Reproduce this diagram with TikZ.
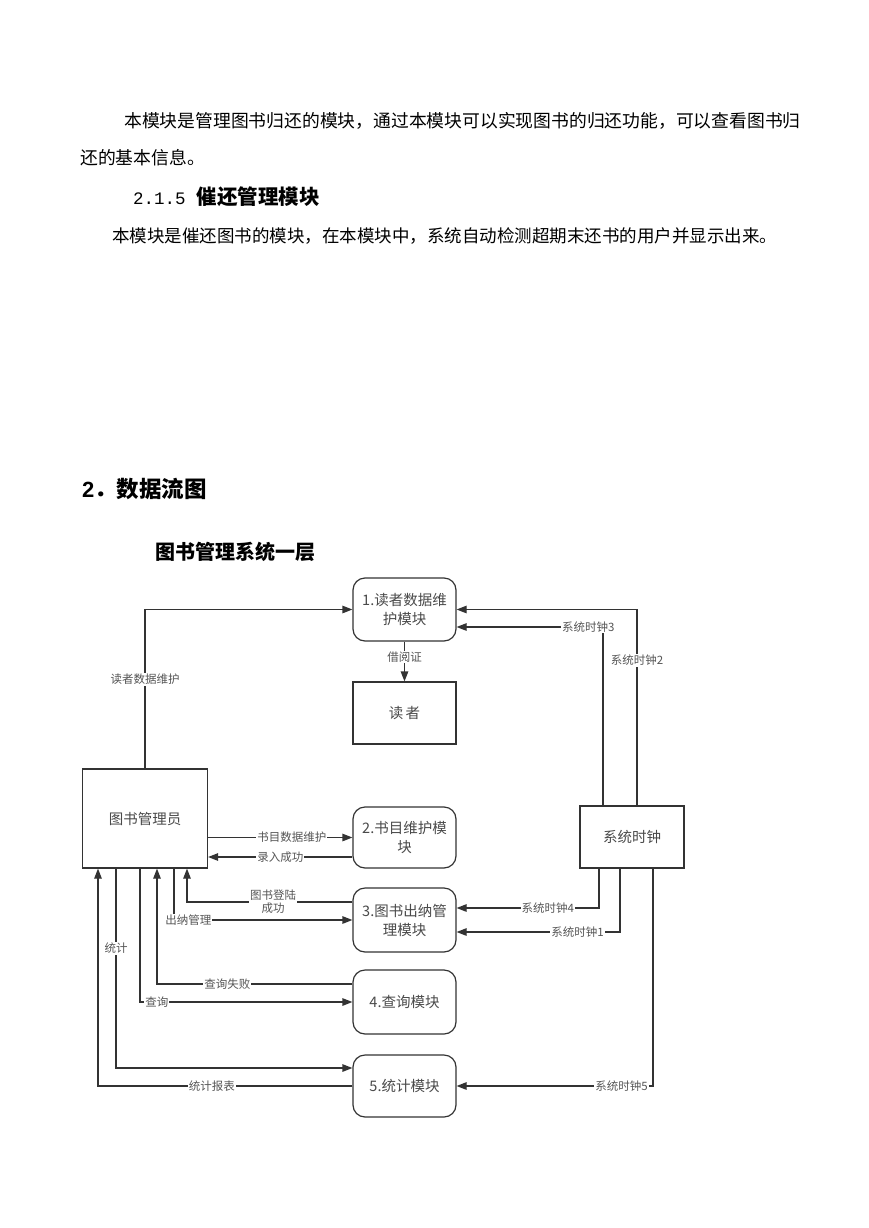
\documentclass[tikz,border=0pt]{standalone}
\usepackage{fontspec}
\newfontfamily\cjk{Noto Sans CJK SC}
\newfontfamily\lsans{Liberation Sans}
\newfontfamily\lmono{Liberation Mono}
\usetikzlibrary{arrows.meta,calc}
\definecolor{linec}{HTML}{333333}
\definecolor{boxtext}{HTML}{4A4A4A}
\definecolor{lbltext}{HTML}{555555}
\begin{document}
\begin{tikzpicture}[x=1pt,y=-1pt,
  ln/.style={line width=1.2pt,draw=linec},
  arr/.style={ln,-{Triangle[length=10pt,width=7.5pt]}},
  rbox/.style={draw=linec,line width=1.2pt,rounded corners=12pt,minimum width=103pt,minimum height=62pt,align=center,inner sep=0pt,font=\cjk\fontsize{14.5}{19}\selectfont,text=boxtext},
  sbox/.style={rbox,rounded corners=0pt},
  lbl/.style={fill=white,inner sep=1pt,font=\cjk\fontsize{11.5}{13}\selectfont,text=lbltext,align=center},
  body/.style={anchor=west,inner sep=0pt,font=\cjk\fontsize{17.8}{20}\selectfont}
]
\fill[white] (0,0) rectangle (869,1228);
\useasboundingbox (0,0) rectangle (869,1228);

% text
\node[body] (t1) at (124,121) {本模块是管理图书归还的模块，通过本模块可以实现图书的归还功能，可以查看图书归};
\node[body] (t2) at (80,158) {还的基本信息。};
\node[anchor=west,inner sep=0pt] (h1) at (133,197) {{\lmono\fontsize{17.5}{20}\selectfont 2.1.5}\hspace{11pt}{\cjk\bfseries\fontsize{20.5}{22}\selectfont 催还管理模块}};
\node[body,font=\cjk\fontsize{17.5}{20}\selectfont] (t3) at (112,236) {本模块是催还图书的模块，在本模块中，系统自动检测超期末还书的用户并显示出来。};
\node[anchor=west,inner sep=0pt] (h2) at (82,489) {{\lsans\bfseries\fontsize{22}{24}\selectfont 2}{\cjk\bfseries\fontsize{22.5}{24}\selectfont ．数据流图}};
\node[anchor=west,inner sep=0pt,font=\cjk\bfseries\fontsize{20}{22}\selectfont] (h3) at (155,552) {图书管理系统一层};

% nodes
\node[rbox,minimum height=63pt] (m1) at (404.5,609.5) {1.读者数据维\\护模块};
\node[sbox] (rd) at (404.5,713) {读\,者};
\node[sbox,minimum width=125pt,minimum height=99pt] (ad) at (145,818.5) {图书管理员};
\node[rbox,minimum height=61pt] (m2) at (404.5,837.5) {2.书目维护模\\块};
\node[sbox,minimum width=104pt] (ck) at (632,837) {系统时钟};
\node[rbox,minimum height=64pt] (m3) at (404.5,920) {3.图书出纳管\\理模块};
\node[rbox,minimum height=64pt] (m4) at (404.5,1002) {4.查询模块};
\node[rbox] (m5) at (404.5,1086) {5.统计模块};

% connectors
\draw[arr] (ad.north) -- node[lbl,pos=0.56]{读者数据维护} (ad.north |- m1.west) -- (m1.west);
\draw[arr] (m1.south) -- node[lbl,pos=0.39]{借阅证} (rd.north);
\draw[arr] ($(ck.north)+(5,0)$) |- node[lbl,pos=0.37]{系统时钟2} (m1.east);
\draw[arr] ($(ck.north)+(-29,0)$) |- node[lbl,pos=0.55]{系统时钟3} ($(m1.east)+(0,17.5)$);

\draw[arr] (ad.east |- m2.west) -- node[lbl,pos=0.58]{书目数据维护} (m2.west);
\draw[arr] ($(m2.west)+(0,19.5)$) -- node[lbl,pos=0.5]{录入成功} ($(ad.east)+(0,38.5)$);

\draw[arr] ($(m3.west)+(0,-18)$) -| node[lbl,pos=0.24]{图书登陆\\成功} ($(ad.south)+(42,0)$);
\draw[arr] ($(ad.south)+(29,0)$) |- node[lbl,pos=0.54]{出纳管理} (m3.west);
\draw[arr] ($(m4.west)+(0,-18)$) -| node[lbl,pos=0.32]{查询失败} ($(ad.south)+(12,0)$);
\draw[arr] ($(ad.south)+(-5,0)$) |- node[lbl,pos=0.54]{查询} (m4.west);
\draw[arr] ($(ad.south)+(-29,0)$) |- node[lbl,pos=0.2]{统计} ($(m5.west)+(0,-18)$);
\draw[arr] (m5.west) -| node[lbl,pos=0.276]{统计报表} ($(ad.south)+(-47,0)$);

\draw[arr] ($(ck.south)+(-33,0)$) |- node[lbl,pos=0.68]{系统时钟4} ($(m3.east)+(0,-12)$);
\draw[arr] ($(ck.south)+(-12,0)$) |- node[lbl,pos=0.63]{系统时钟1} ($(m3.east)+(0,12)$);
\draw[arr] ($(ck.south)+(21,0)$) |- node[lbl,pos=0.58]{系统时钟5} (m5.east);
\end{tikzpicture}
\end{document}
